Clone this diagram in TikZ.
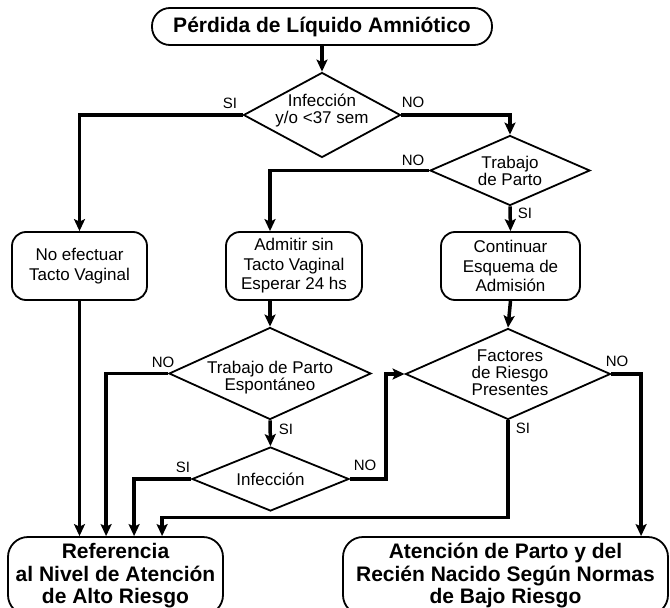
\documentclass[tikz,border=0pt]{standalone}
\usepackage{fontspec}
\setmainfont{Liberation Sans}
\usetikzlibrary{shapes.geometric,arrows.meta}
\begin{document}
\begin{tikzpicture}[x=1pt,y=-1pt,
  box/.style={draw, line width=1.8pt, rounded corners=14pt, align=center, inner sep=0pt,
    font=\fontsize{17}{19.5}\selectfont},
  bigbox/.style={draw, line width=1.8pt, rounded corners=20pt, align=center, inner sep=0pt,
    font=\fontsize{21}{22.5}\selectfont\bfseries},
  dia/.style={draw, shape=diamond, line width=1.8pt, inner sep=0pt},
  dtext/.style={font=\fontsize{17}{17}\selectfont, align=center, inner sep=0pt},
  conn/.style={line width=3.5pt, -{Stealth[length=12pt,width=11pt,inset=2.5pt]}},
  wire/.style={line width=3.5pt},
  lab/.style={font=\fontsize{15}{16}\selectfont, inner sep=0pt}]
\useasboundingbox (0,0) rectangle (670,608);

% boxes
\node[bigbox, minimum width=340pt, minimum height=37pt, rounded corners=18pt] (top) at (322,26.5) {Pérdida de Líquido Amniótico};
\node[box, minimum width=135pt, minimum height=68pt] (noef) at (79.5,266) {No efectuar\\Tacto Vaginal};
\node[box, minimum width=136pt, minimum height=68pt] (adm) at (294,266) {Admitir sin\\Tacto Vaginal\\Esperar 24 hs};
\node[box, minimum width=139pt, minimum height=68pt] (cont) at (510.5,266) {Continuar\\Esquema de\\Admisión};
\node[bigbox, minimum width=215pt, minimum height=78pt] (ref) at (115.5,576) {Referencia\\al Nivel de Atención\\de Alto Riesgo};
\node[bigbox, minimum width=325pt, minimum height=78pt] (aten) at (505.5,576) {Atención de Parto y del\\Recién Nacido Según Normas\\de Bajo Riesgo};

% diamonds
\node[dia, minimum width=157pt, minimum height=85pt] (d1) at (322,115) {};
\node[dtext] (d1t) at (322,111) {Infección\\y/o <37 sem};
\node[dia, minimum width=160pt, minimum height=70pt] (d2) at (510,170.5) {};
\node[dtext] (d2t) at (510,171) {Trabajo\\de Parto};
\node[dia, minimum width=202pt, minimum height=92pt] (d3) at (270,373.5) {};
\node[dtext] (d3t) at (270,378) {Trabajo de Parto\\Espontáneo};
\node[dia, minimum width=205pt, minimum height=91pt] (d4) at (508,374) {};
\node[dtext] (d4t) at (510,373) {Factores\\de Riesgo\\Presentes};
\node[dia, minimum width=157pt, minimum height=64pt] (d5) at (270.5,479) {};
\node[dtext] (d5t) at (270.5,479) {Infección};

% connectors
\draw[conn] (top.south) -- (d1.north);
\draw[conn] (d1.west) -| (noef.north);
\draw[conn] (d1.east) -| (d2.north);
\draw[conn] (d2.west) -| (d3.north |- adm.north);
\draw[conn] (d2.south) -- (cont.north);
\draw[conn] (noef.south) -- (noef.south |- ref.north);
\draw[conn] (d3.north |- adm.south) -- (d3.north);
\draw[conn] (cont.south) -- (d4.north);
\draw[conn] (d3.west) -| ([xshift=99pt]ref.north west);
\draw[conn] (d3.south) -- (d5.north);
\draw[conn] (d5.west) -| ([xshift=127pt]ref.north west);
\draw[conn] (d5.east) -- ++(36,0) |- (d4.west);
\draw[conn] (d4.south) -- ++(0,97) -| ([xshift=155pt]ref.north west);
\draw[conn] (d4.east) -| ([xshift=299pt]aten.north west);

% labels
\node[lab] (l1) at (230,103) {SI};
\node[lab] (l2) at (413,102) {NO};
\node[lab] (l3) at (413,160) {NO};
\node[lab] (l4) at (525,213) {SI};
\node[lab] (l5) at (163,362) {NO};
\node[lab] (l6) at (286,429) {SI};
\node[lab] (l7) at (617,361) {NO};
\node[lab] (l8) at (523,428) {SI};
\node[lab] (l9) at (183,467) {SI};
\node[lab] (l10) at (365,465) {NO};
\end{tikzpicture}
\end{document}
